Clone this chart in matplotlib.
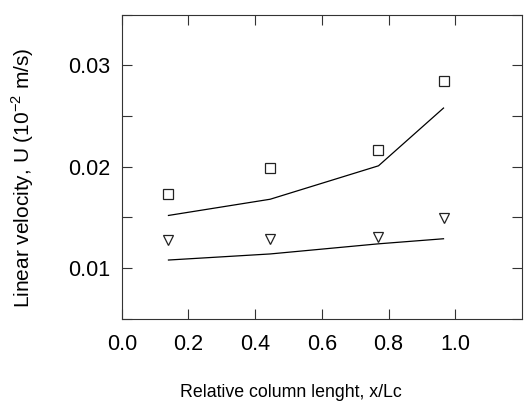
# velocity along the column: measured points vs model lines

import matplotlib.pyplot as plt
from matplotlib.ticker import MultipleLocator

plt.rcParams['font.family'] = ['Liberation Sans', 'DejaVu Sans']

x_pos = [0.14, 0.445, 0.77, 0.965]

u_meas_a = [0.0173, 0.0199, 0.0217, 0.0285]
u_model_a = [0.0152, 0.0168, 0.0201, 0.0258]

u_meas_b = [0.0128, 0.0129, 0.0131, 0.0149]
u_model_b = [0.0108, 0.0114, 0.0124, 0.0129]

x_ticks = [0.0, 0.2, 0.4, 0.6, 0.8, 1.0]
x_ticklabels = ["0.0", "0.2", "0.4", "0.6", "0.8", "1.0"]
y_ticks = [0.01, 0.02, 0.03]
y_ticklabels = ["0.01", "0.02", "0.03"]

fig = plt.figure(figsize=(5.25, 4.01), dpi=100)
ax = fig.add_axes([0.232, 0.205, 0.762, 0.758])

ax.plot(x_pos, u_model_a, "-", color="black", lw=0.9)
ax.plot(x_pos, u_model_b, "-", color="black", lw=0.9)
ax.plot(x_pos, u_meas_a, "s", ms=6.5, mfc="white", mec="#222222", mew=0.9)
ax.plot(x_pos, u_meas_b, "v", ms=7.5, mfc="white", mec="#222222", mew=0.9)

ax.set_xlim(0, 1.2)
ax.set_ylim(0.005, 0.035)
ax.set_xticks(x_ticks)
ax.set_xticklabels(x_ticklabels)
ax.set_yticks(y_ticks)
ax.set_yticklabels(y_ticklabels)
ax.yaxis.set_minor_locator(MultipleLocator(0.005))

ax.tick_params(which="both", direction="in", top=True, right=True,
               labelsize=15.5, width=0.8, color="#333333", length=7)
ax.tick_params(axis="y", pad=8.5)
ax.tick_params(axis="x", pad=11)
for s in ax.spines.values():
    s.set_linewidth(0.8)
    s.set_color("#333333")

ax.set_xlabel("Relative column lenght, x/Lc", fontsize=12.8)
ax.set_ylabel(r"Linear velocity, U (10$^{\mathregular{-2}}$ m/s)", fontsize=15)
# labels sit a little off-centre
ax.xaxis.set_label_coords(0.4225, -0.214)
ax.yaxis.set_label_coords(-0.214, 0.4655)

fig.savefig("out.png", dpi=100)
